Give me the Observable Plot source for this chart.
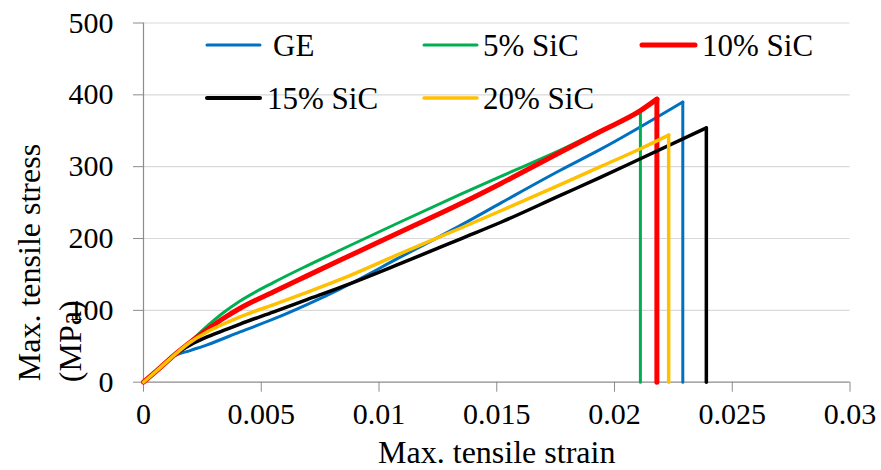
<!DOCTYPE html>
<html><head><meta charset="utf-8">
<script src="https://cdn.jsdelivr.net/npm/d3@7"></script>
<script src="https://cdn.jsdelivr.net/npm/@observablehq/plot@0.6"></script>
<style>
body{margin:0;background:#fff;}
#wrap{position:relative;width:881px;height:470px;overflow:hidden;}
#legend{position:absolute;left:0;top:0;pointer-events:none;}
#wrap svg text{font-family:"Liberation Serif","Times New Roman",serif;}
</style></head><body><div id="wrap"></div>
<script>
// ---- data ----
const seriesNames = ["GE", "5% SiC", "10% SiC", "15% SiC", "20% SiC"];

const geStrain = [0, 0.0007, 0.00128, 0.00198, 0.0027, 0.0041, 0.00553, 0.00694, 0.00836, 0.0109, 0.0135, 0.0152, 0.0177, 0.0194, 0.0229];
const geStress = [0, 20, 36, 44, 52, 70, 88, 108, 130, 174, 219, 250, 295, 324, 390];

const sic5Strain = [0, 0.0007, 0.00128, 0.002, 0.0027, 0.0034, 0.0041, 0.00553, 0.00694, 0.00836, 0.0109, 0.0135, 0.0152, 0.0177, 0.0194, 0.0211];
const sic5Stress = [0, 20, 37, 57, 78, 97, 113, 139, 162, 184, 223, 262, 287, 323, 350, 376];

const sic10Strain = [0, 0.0007, 0.00128, 0.002, 0.0027, 0.0034, 0.0041, 0.00553, 0.00694, 0.00836, 0.0109, 0.0135, 0.0152, 0.0177, 0.0194, 0.0211, 0.0218];
const sic10Stress = [0, 20, 37, 56, 73, 89, 103, 126, 148, 170, 209, 249, 277, 320, 349, 378, 394];

const sic15Strain = [0, 0.0007, 0.00128, 0.002, 0.0027, 0.0034, 0.0041, 0.00553, 0.00694, 0.00836, 0.0109, 0.0135, 0.0152, 0.0177, 0.0194, 0.0211, 0.0239];
const sic15Stress = [0, 20, 37, 52, 63, 72, 81, 98, 115, 132, 165, 200, 223, 260, 285, 311, 354];

const sic20Strain = [0, 0.0007, 0.00128, 0.002, 0.0027, 0.0034, 0.0041, 0.00553, 0.00694, 0.00836, 0.0109, 0.0135, 0.0152, 0.0177, 0.0194, 0.0211, 0.0223];
const sic20Stress = [0, 20, 37, 56, 70, 81, 91, 108, 125, 143, 179, 215, 239, 275, 300, 325, 344];

const xTicks = [0, 0.005, 0.01, 0.015, 0.02, 0.025, 0.03];
const xTickLabels = ["0", "0.005", "0.01", "0.015", "0.02", "0.025", "0.03"];
const yTicks = [0, 100, 200, 300, 400, 500];
const yTickLabels = ["0", "100", "200", "300", "400", "500"];

const xTitle = "Max. tensile strain";
const yTitle1 = "Max. tensile stress";
const yTitle2 = "(MPa)";

// ---- styles ----
const seriesColors = ["#0070C0", "#00B050", "#FF0000", "#000000", "#FFC000"];
const seriesWidths = [3, 3, 5, 3.5, 3.5];
const legendWidths = [3, 3, 5, 4, 3.5];
const FONT = "Liberation Serif";
const axisGray = "#8c8c8c";

const strains = [geStrain, sic5Strain, sic10Strain, sic15Strain, sic20Strain];
const stresses = [geStress, sic5Stress, sic10Stress, sic15Stress, sic20Stress];

const seriesRows = seriesNames.map((name, k) =>
  strains[k].map((x, i) => ({series: name, strain: x, stress: stresses[k][i]})));
// failure drop: from last point straight down to zero stress
const dropRows = seriesRows.map(rows => {
  const last = rows[rows.length - 1];
  return [last, {series: last.series, strain: last.strain, stress: 0}];
});

const lineMarks = [];
seriesNames.forEach((name, k) => {
  lineMarks.push(Plot.line(seriesRows[k], {x: "strain", y: "stress", stroke: seriesColors[k], strokeWidth: seriesWidths[k], curve: "monotone-x"}));
  lineMarks.push(Plot.line(dropRows[k], {x: "strain", y: "stress", stroke: seriesColors[k], strokeWidth: seriesWidths[k]}));
});

const chart = Plot.plot({
  width: 881, height: 470,
  marginLeft: 143, marginRight: 31.5, marginTop: 22.5, marginBottom: 88.3,
  x: {domain: [0, 0.03]},
  y: {domain: [0, 500]},
  style: {fontFamily: FONT, background: "white", color: "#000", overflow: "visible"},
  marks: [
    Plot.gridY(yTicks.filter(d => d > 0), {stroke: "#d9d9d9", strokeOpacity: 1, strokeWidth: 1.2}),
    Plot.ruleX([0], {stroke: axisGray, strokeWidth: 1.2}),
    Plot.ruleY([0], {stroke: axisGray, strokeWidth: 1.2}),
    Plot.axisY(yTicks, {tickSize: 10, tickPadding: 20, fontSize: 30, fontFamily: FONT, stroke: axisGray, fill: "#000",
      tickFormat: d => yTickLabels[yTicks.indexOf(d)], label: null}),
    Plot.axisX(xTicks, {tickSize: 10, tickPadding: 10, fontSize: 30, fontFamily: FONT, stroke: axisGray, fill: "#000",
      tickFormat: d => xTickLabels[xTicks.indexOf(d)], label: null}),
    ...lineMarks,
    Plot.text([xTitle], {text: d => d, frameAnchor: "bottom", lineAnchor: "bottom", dy: 81, fontSize: 32, fontFamily: FONT, fill: "#000"}),
    Plot.text([yTitle1], {text: d => d, frameAnchor: "bottom-left", rotate: -90, textAnchor: "start", lineAnchor: "bottom", dx: -104, dy: -1, fontSize: 32, fontFamily: FONT, fill: "#000"}),
    Plot.text([yTitle2], {text: d => d, frameAnchor: "bottom-left", rotate: -90, textAnchor: "start", lineAnchor: "bottom", dx: -63, dy: 0, fontSize: 32, fontFamily: FONT, fill: "#000"})
  ]
});
const wrap = document.getElementById("wrap");
wrap.appendChild(chart);

// ---- legend overlay ----
const legendLayout = [
  {x1: 207, x2: 260, y: 45, tx: 273, ty: 56},
  {x1: 424, x2: 477, y: 45, tx: 483, ty: 56},
  {x1: 642, x2: 695, y: 45, tx: 702, ty: 56},
  {x1: 207, x2: 260, y: 98, tx: 267, ty: 109},
  {x1: 424, x2: 477, y: 98, tx: 483, ty: 109}
];
const leg = d3.select(wrap).append("svg").attr("id", "legend").attr("width", 881).attr("height", 470);
seriesNames.forEach((name, k) => {
  const L = legendLayout[k];
  leg.append("line").attr("x1", L.x1).attr("x2", L.x2).attr("y1", L.y).attr("y2", L.y)
    .attr("stroke", seriesColors[k]).attr("stroke-width", legendWidths[k]).attr("stroke-linecap", "round");
  leg.append("text").attr("x", L.tx).attr("y", L.ty).text(name)
    .attr("font-family", FONT).attr("font-size", 31).attr("fill", "#000");
});
</script></body></html>
